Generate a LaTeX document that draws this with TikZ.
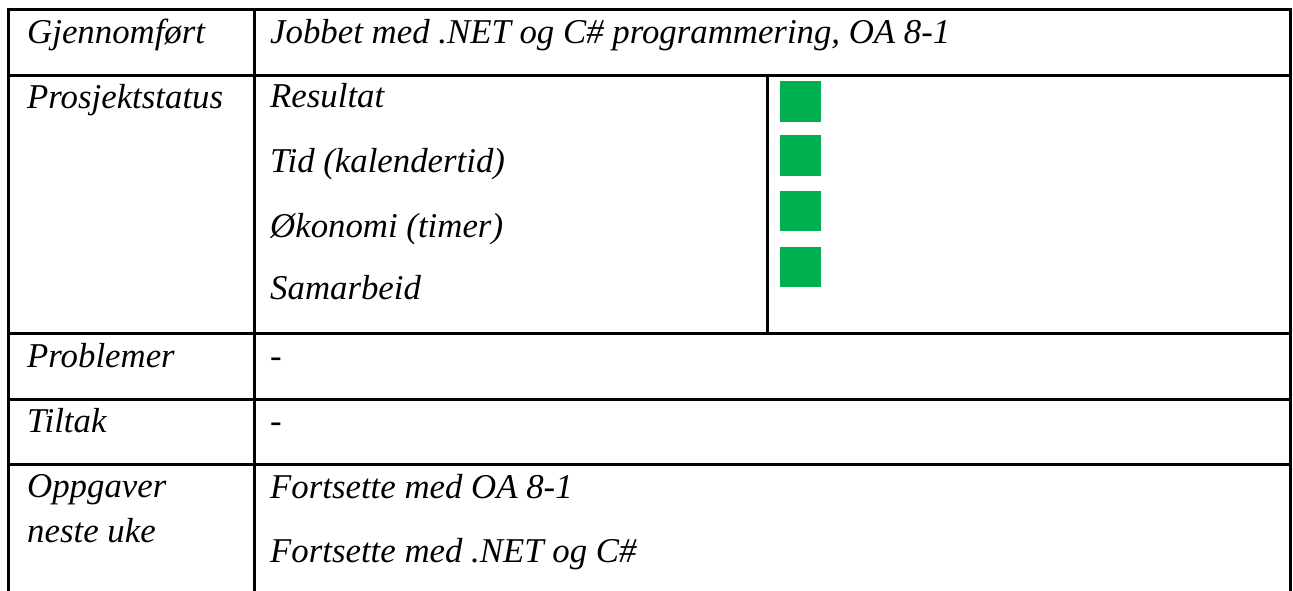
\documentclass[tikz,border=0pt]{standalone}
\usepackage{fontspec}
\setmainfont{Liberation Serif}
\definecolor{okgreen}{RGB}{0,176,80}
\begin{document}
\begin{tikzpicture}[x=1pt,y=-1pt,
  rule/.style={line width=3pt,line cap=rect},
  txt/.style={anchor=base west,inner sep=0pt,font=\fontsize{34.8}{40}\selectfont\itshape},
  status/.style={fill=okgreen,draw=none}]
\useasboundingbox (0,0) rectangle (1293,590);
% frame and rules
\draw[rule] (8,590) -- (8,9) -- (1290,9) -- (1290,590);
\draw[rule] (254,9) -- (254,590);
\draw[rule] (8,75) -- (1290,75);
\draw[rule] (767,75) -- (767,333.5);
\draw[rule] (8,333.5) -- (1290,333.5);
\draw[rule] (8,399) -- (1290,399);
\draw[rule] (8,464) -- (1290,464);
% status squares
\fill[status] (780,81) rectangle (821,122);
\fill[status] (780,135) rectangle (821,176);
\fill[status] (780,191) rectangle (821,231);
\fill[status] (780,247) rectangle (821,287);
% texts
\node[txt] (l1) at (27,43) {Gjennomført};
\node[txt] (r1) at (270,43) {Jobbet med .NET og C\# programmering, OA 8-1};
\node[txt] (l2) at (27,108) {Prosjektstatus};
\node[txt] (r2a) at (270,107) {Resultat};
\node[txt] (r2b) at (270,172) {Tid (kalendertid)};
\node[txt] (r2c) at (270,237) {Økonomi (timer)};
\node[txt] (r2d) at (270,299) {Samarbeid};
\node[txt] (l3) at (27,367) {Problemer};
\node[txt] (r3) at (270,367) {-};
\node[txt] (l4) at (27,432) {Tiltak};
\node[txt] (r4) at (270,432) {-};
\node[txt] (l5a) at (27,497) {Oppgaver};
\node[txt] (l5b) at (27,542) {neste uke};
\node[txt] (r5a) at (270,498) {Fortsette med OA 8-1};
\node[txt] (r5b) at (270,562) {Fortsette med .NET og C\#};
\end{tikzpicture}
\end{document}
